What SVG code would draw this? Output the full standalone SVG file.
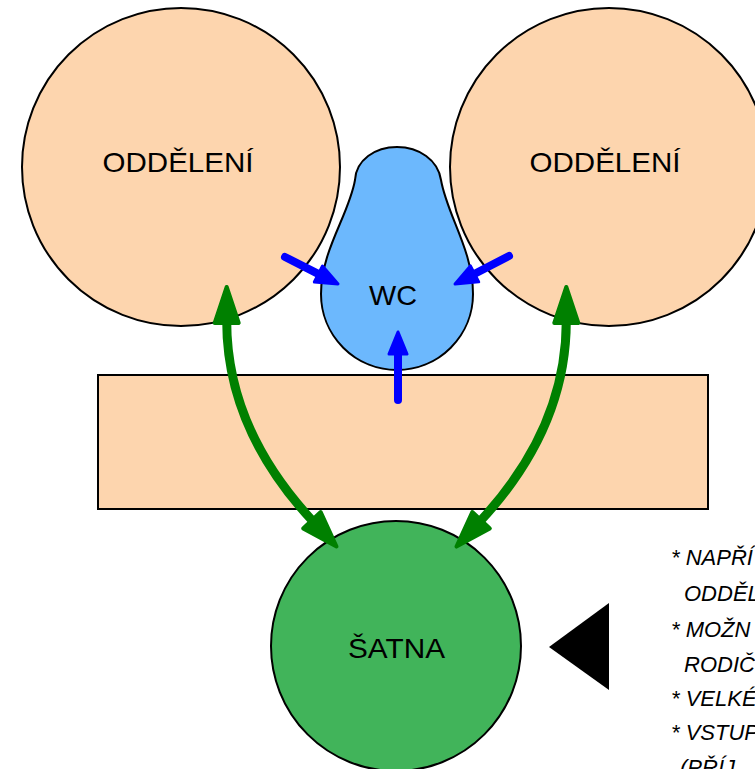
<svg xmlns="http://www.w3.org/2000/svg" width="755" height="769" viewBox="0 0 755 769">
  <style>
    .room { fill: #fdd5ae; stroke: #000; stroke-width: 2; }
    .wc { fill: #6cb8fd; stroke: #000; stroke-width: 2; }
    .satna { fill: #41b45a; stroke: #000; stroke-width: 2; }
    .label { font-family: "Liberation Sans", Arial, sans-serif; font-size: 28px; fill: #000; text-anchor: middle; }
    .note { font-family: "Liberation Sans", Arial, sans-serif; font-size: 22px; font-style: italic; fill: #000; }
    .blue { fill: none; stroke: #0000ff; stroke-width: 8; stroke-linecap: round; }
    .green { fill: none; stroke: #008000; stroke-width: 9; stroke-linecap: round; }
  </style>
  <defs>
    <marker id="headBlue" markerUnits="userSpaceOnUse" viewBox="-4 -14 32 28" markerWidth="32" markerHeight="28" refX="2" refY="0" orient="auto" overflow="visible">
      <path d="M0,-9 L22,0 L0,9 Z" fill="#0000ff" stroke="#0000ff" stroke-width="3" stroke-linejoin="round"/>
    </marker>
    <marker id="headGreen" markerUnits="userSpaceOnUse" viewBox="-4 -18 46 36" markerWidth="46" markerHeight="36" refX="2" refY="0" orient="auto-start-reverse" overflow="visible">
      <path d="M0,-12 L36,0 L0,12 Z" fill="#008000" stroke="#008000" stroke-width="4" stroke-linejoin="round"/>
    </marker>
  </defs>

  <g id="oddeleni-left">
    <circle class="room" cx="181" cy="167" r="159"/>
    <text class="label" x="178" y="172" textLength="151" lengthAdjust="spacingAndGlyphs">ODDĚLENÍ</text>
  </g>

  <g id="oddeleni-right">
    <circle class="room" cx="609" cy="167" r="159"/>
    <text class="label" x="605" y="172" textLength="151" lengthAdjust="spacingAndGlyphs">ODDĚLENÍ</text>
  </g>

  <g id="wc">
    <path class="wc" d="M355,180 C356,160 375,147 397,147 C419,147 438,160 441,180 C447,215 473,250 473,294 A76,76 0 0 1 321,294 C321,250 349,215 355,180 Z"/>
    <text class="label" x="393" y="305" textLength="48" lengthAdjust="spacingAndGlyphs">WC</text>
  </g>

  <g id="chodba">
    <rect class="room" x="98" y="375" width="610" height="134"/>
  </g>

  <g id="satna">
    <circle class="satna" cx="396" cy="646" r="125"/>
    <text class="label" x="396.5" y="658" textLength="97" lengthAdjust="spacingAndGlyphs">ŠATNA</text>
  </g>

  <g id="vstup">
    <polygon points="549,647 609,603 609,690" fill="#000"/>
  </g>

  <g id="connectors">
    <line class="blue" x1="285" y1="257" x2="320.2" y2="274.9" marker-end="url(#headBlue)"/>
    <line class="blue" x1="509" y1="256" x2="472.8" y2="274.8" marker-end="url(#headBlue)"/>
    <line class="blue" x1="398" y1="400" x2="398" y2="352" marker-end="url(#headBlue)"/>
    <path class="green" d="M226.7,321 Q226.7,429 313.3,521.7" marker-start="url(#headGreen)" marker-end="url(#headGreen)"/>
    <path class="green" d="M566.3,321 Q566.3,429 479.7,521.7" marker-start="url(#headGreen)" marker-end="url(#headGreen)"/>
  </g>

  <g id="poznamky">
    <text class="note" x="671" y="565">* NAPŘÍ</text>
    <text class="note" x="684" y="601">ODDĚL</text>
    <text class="note" x="671" y="637">* MOŽN</text>
    <text class="note" x="684" y="672">RODIČ</text>
    <text class="note" x="671" y="706">* VELKÉ</text>
    <text class="note" x="671" y="740">* VSTUP</text>
    <text class="note" x="680" y="775">(PŘÍJ</text>
  </g>
</svg>
